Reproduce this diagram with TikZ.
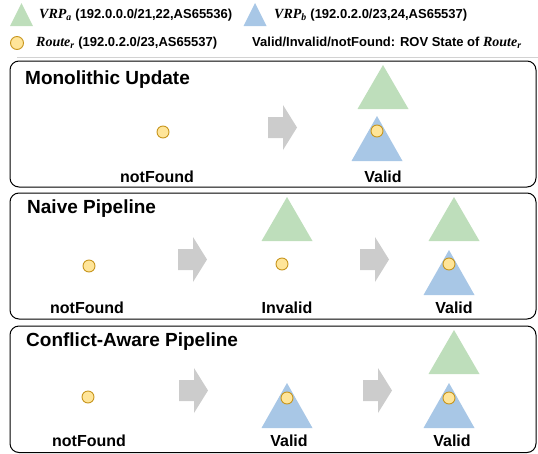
\documentclass[tikz,border=0pt]{standalone}
\usepackage{fontspec}
\setmainfont{Liberation Sans}
\newfontfamily\mathlike{Liberation Serif}
\newcommand{\mvar}[2]{{\mathlike\bfseries\itshape\fontsize{14}{15}\selectfont #1\textsubscript{#2}}}
\definecolor{vrpagreen}{RGB}{190,222,187}
\definecolor{vrpbblue}{RGB}{168,199,230}
\definecolor{routefill}{RGB}{255,229,153}
\definecolor{routedraw}{RGB}{200,150,30}
\definecolor{arrowgray}{RGB}{204,204,204}
\tikzset{
  panel/.style={draw=black, line width=1pt, rounded corners=9pt},
  title/.style={anchor=west, inner sep=0pt, font=\fontsize{19}{22}\selectfont\bfseries},
  state/.style={inner sep=0pt, font=\fontsize{16}{19}\selectfont\bfseries},
  legend/.style={anchor=west, inner sep=0pt, font=\fontsize{13}{15}\selectfont\bfseries},
  route/.style={circle, draw=routedraw, fill=routefill, line width=0.9pt, minimum size=12pt, inner sep=0pt},
  legroute/.style={route, minimum size=13pt},
  pics/vrpa/.style={code={\fill[vrpagreen] (0,0) -- (-25.5,44) -- (25.5,44) -- cycle;}},
  pics/vrpb/.style={code={\fill[vrpbblue] (0,0) -- (-25.5,45) -- (25.5,45) -- cycle;}},
  pics/stepfwd/.style={code={\fill[arrowgray] (0,12) -- (15,12) -- (15,0) -- (29,22.5) -- (15,45) -- (15,33) -- (0,33) -- cycle;}},
}
\begin{document}
\begin{tikzpicture}[x=1pt,y=-1pt]
\useasboundingbox (0,0) rectangle (538,453);
% legend
\fill[vrpagreen] (21.5,3) -- (10,26) -- (33,26) -- cycle;
\node[legend] (lga) at (39,15) {\mvar{VRP}{a} (192.0.0.0/21,22,AS65536)};
\fill[vrpbblue] (255,3) -- (243.5,26) -- (266.5,26) -- cycle;
\node[legend] (lgb) at (274,15) {\mvar{VRP}{b} (192.0.2.0/23,24,AS65537)};
\node[legroute] (lgr) at (17,43) {};
\node[legend] (lgrt) at (36,43) {\mvar{Route}{r} (192.0.2.0/23,AS65537)};
\node[legend] (lgst) at (252,43) {Valid/Invalid/notFound: ROV State of \mvar{Route}{r}};
\draw[gray!35, line width=0.8pt] (17,57) -- (538,57);

% panel 1
\draw[panel] (10,61) rectangle (536,187);
\node[title] (t1) at (25,80) {Monolithic Update};
\node[route] (r1a) at (163,132) {};
\pic at (268,105) {stepfwd};
\pic at (383,65) {vrpa};
\pic at (377,116) {vrpb};
\node[route] (r1b) at (377,131) {};
\node[state] (s1a) at (157,177) {notFound};
\node[state] (s1b) at (383,177) {Valid};

% panel 2
\draw[panel] (10,193) rectangle (536,319);
\node[title] (t2) at (27,209) {Naive Pipeline};
\node[route] (r2a) at (89,266) {};
\pic at (178,237) {stepfwd};
\pic at (287,197) {vrpa};
\node[route] (r2b) at (282,264) {};
\pic at (360,237) {stepfwd};
\pic at (454,197) {vrpa};
\pic at (449,250) {vrpb};
\node[route] (r2c) at (449,264) {};
\node[state] (s2a) at (87,308) {notFound};
\node[state] (s2b) at (287,308) {Invalid};
\node[state] (s2c) at (454,308) {Valid};

% panel 3
\draw[panel] (10,326) rectangle (536,452.5);
\node[title] (t3) at (26,342) {Conflict-Aware Pipeline};
\node[route] (r3a) at (88,397) {};
\pic at (179,368) {stepfwd};
\pic at (287,383) {vrpb};
\node[route] (r3b) at (287,398) {};
\pic at (363,368) {stepfwd};
\pic at (454,330) {vrpa};
\pic at (449,383) {vrpb};
\node[route] (r3c) at (449,398) {};
\node[state] (s3a) at (89,441) {notFound};
\node[state] (s3b) at (289,441) {Valid};
\node[state] (s3c) at (452,441) {Valid};
\end{tikzpicture}
\end{document}
